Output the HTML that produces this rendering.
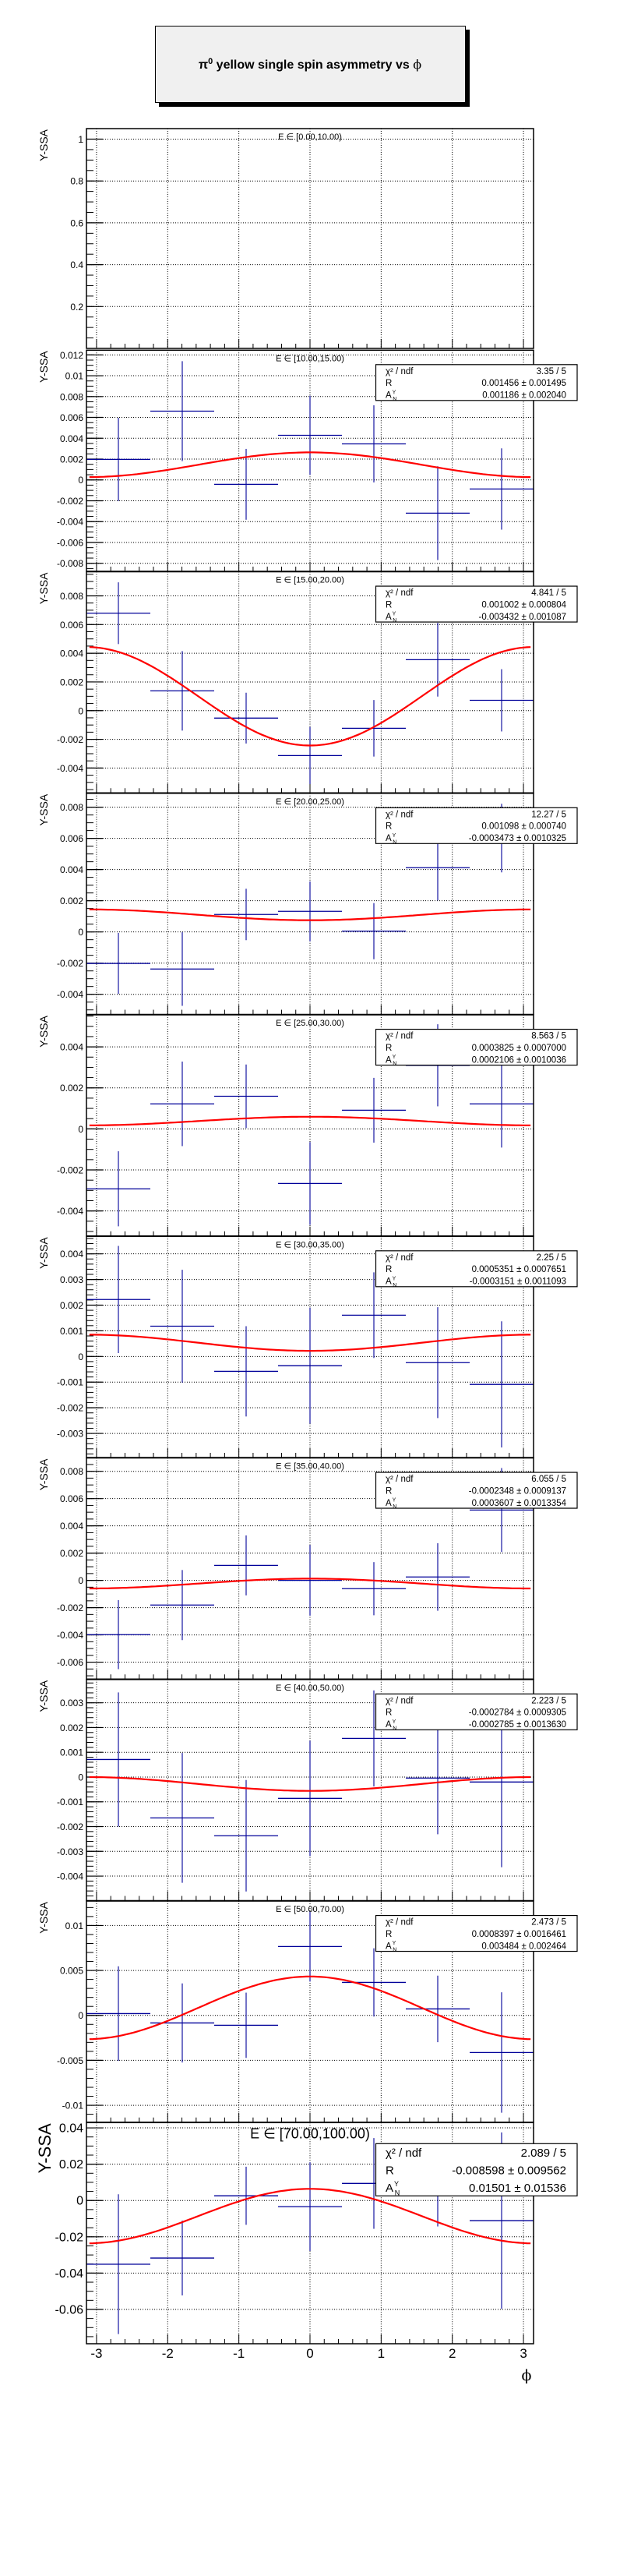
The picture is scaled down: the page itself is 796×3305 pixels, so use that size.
<!DOCTYPE html>
<html><head><meta charset="utf-8"><style>
body{margin:0;background:#fff;}
svg{display:block;font-family:"Liberation Sans",Arial,sans-serif;}
</style></head><body>
<svg id="c" width="796" height="3305" viewBox="0 0 796 3305" xmlns="http://www.w3.org/2000/svg">
<g>
<rect x="204" y="38" width="399" height="99" fill="#000"/>
<rect x="199.5" y="33.5" width="398" height="98" fill="#f0f0f0" stroke="#000" stroke-width="1"/>
<text x="398" y="88" text-anchor="middle" font-size="16" font-weight="bold">π<tspan dy="-6" font-size="11">0</tspan><tspan dy="6"> yellow single spin asymmetry vs </tspan><tspan font-weight="normal" font-family="'DejaVu Serif',serif">ϕ</tspan></text>
</g>
</svg>
<script>
// ---- data ----
const phiBinEdges = [-3.1416,-2.2440,-1.3464,-0.4488,0.4488,1.3464,2.2440,3.1416];
const energyBins = ["[0.00,10.00)","[10.00,15.00)","[15.00,20.00)","[20.00,25.00)","[25.00,30.00)","[30.00,35.00)","[35.00,40.00)","[40.00,50.00)","[50.00,70.00)","[70.00,100.00)"];
const yssa2 = [0.00197,0.0066,-0.00042,0.00428,0.00346,-0.00319,-0.00087];
const err2  = [0.0040,0.0048,0.0034,0.0038,0.0037,0.0045,0.0039];
const yssa3 = [0.00679,0.00138,-0.00052,-0.00313,-0.00123,0.00355,0.00072];
const err3  = [0.00215,0.00277,0.00177,0.00199,0.00197,0.00257,0.00217];
const yssa4 = [-0.00202,-0.00238,0.00112,0.00132,0.00005,0.00412,0.00602];
const err4  = [0.00196,0.00236,0.00165,0.00192,0.0018,0.0021,0.0022];
const yssa5 = [-0.00292,0.00122,0.00159,-0.00266,0.00091,0.0031,0.00122];
const err5  = [0.00183,0.00206,0.00155,0.00202,0.00158,0.002,0.00213];
const yssa6 = [0.00222,0.00118,-0.00058,-0.00036,0.00161,-0.00024,-0.00109];
const err6  = [0.00209,0.0022,0.00176,0.00226,0.00167,0.00216,0.00246];
const yssa7 = [-0.00398,-0.00181,0.0011,0.0,-0.00061,0.00025,0.00516];
const err7  = [0.00253,0.00257,0.0022,0.00259,0.00195,0.00248,0.00308];
const yssa8 = [0.00071,-0.00165,-0.00237,-0.00086,0.00156,-0.00004,-0.0002];
const err8  = [0.00271,0.00262,0.00225,0.00233,0.00194,0.00227,0.00344];
const yssa9 = [0.0002,-0.00084,-0.0011,0.00766,0.00367,0.00072,-0.00413];
const err9  = [0.00526,0.0044,0.00363,0.0039,0.0038,0.0037,0.0067];
const yssa10 = [-0.0351,-0.0317,0.0026,-0.0034,0.0094,0.006,-0.0111];
const err10  = [0.0385,0.0206,0.016,0.0244,0.025,0.0203,0.0486];
const fitR = [null,0.001456,0.001002,0.001098,0.0003825,0.0005351,-0.0002348,-0.0002784,0.0008397,-0.008598];
const fitA = [null,0.001186,-0.003432,-0.0003473,0.0002106,-0.0003151,0.0003607,-0.0002785,0.003484,0.01501];
const chiLabels = [null,"3.35 / 5","4.841 / 5","12.27 / 5","8.563 / 5","2.25 / 5","6.055 / 5","2.223 / 5","2.473 / 5","2.089 / 5"];
const rLabels = [null,"0.001456 ± 0.001495","0.001002 ± 0.000804","0.001098 ± 0.000740","0.0003825 ± 0.0007000","0.0005351 ± 0.0007651","-0.0002348 ± 0.0009137","-0.0002784 ± 0.0009305","0.0008397 ± 0.0016461","-0.008598 ± 0.009562"];
const aLabels = [null,"0.001186 ± 0.002040","-0.003432 ± 0.001087","-0.0003473 ± 0.0010325","0.0002106 ± 0.0010036","-0.0003151 ± 0.0011093","0.0003607 ± 0.0013354","-0.0002785 ± 0.0013630","0.003484 ± 0.002464","0.01501 ± 0.01536"];
const yRanges = [[0,1.0503],[-0.00877,0.01245],[-0.00573,0.00968],[-0.00529,0.00889],[-0.00522,0.00556],[-0.00394,0.00468],[-0.00724,0.00898],[-0.00499,0.00394],[-0.01188,0.01272],[-0.0789,0.0429]];
const yTickLabels = [
 ["0.2","0.4","0.6","0.8","1"],
 ["-0.008","-0.006","-0.004","-0.002","0","0.002","0.004","0.006","0.008","0.01","0.012"],
 ["-0.004","-0.002","0","0.002","0.004","0.006","0.008"],
 ["-0.004","-0.002","0","0.002","0.004","0.006","0.008"],
 ["-0.004","-0.002","0","0.002","0.004"],
 ["-0.003","-0.002","-0.001","0","0.001","0.002","0.003","0.004"],
 ["-0.006","-0.004","-0.002","0","0.002","0.004","0.006","0.008"],
 ["-0.004","-0.003","-0.002","-0.001","0","0.001","0.002","0.003"],
 ["-0.01","-0.005","0","0.005","0.01"],
 ["-0.06","-0.04","-0.02","0","0.02","0.04"]];
const yMinorDiv = [4,4,4,4,4,5,4,5,5,4];
const xTickLabels = ["-3","-2","-1","0","1","2","3"];
const yssaAll = [null,yssa2,yssa3,yssa4,yssa5,yssa6,yssa7,yssa8,yssa9,yssa10];
const errAll = [null,err2,err3,err4,err5,err6,err7,err8,err9,err10];

// ---- drawing ----
const NS="http://www.w3.org/2000/svg";
const svg=document.getElementById('c');
function mk(tag,attrs,parent){const e=document.createElementNS(NS,tag);for(const k in attrs)e.setAttribute(k,attrs[k]);(parent||svg).appendChild(e);return e;}
const X0=111,X1=685;
function xs(v){return X0+(v-phiBinEdges[0])/(phiBinEdges[7]-phiBinEdges[0])*(X1-X0);}

for(let p=0;p<10;p++){
  const top = p===0?165:449.3+284.25*(p-1);
  const bot = p===0?447:top+283.7;
  const big = p===9;
  const [ymin,ymax]=yRanges[p];
  const ys=v=>bot-(v-ymin)/(ymax-ymin)*(bot-top);
  const g=mk('g',{});
  
  
  const cid='clip'+p;
  const cp=mk('clipPath',{id:cid},g);mk('rect',{x:X0,y:top,width:X1-X0,height:bot-top},cp);
  for(const t of xTickLabels){const v=parseFloat(t);const gl=mk('line',{x1:xs(v),x2:xs(v),y1:top,y2:bot,stroke:'#000','stroke-width':1,'stroke-dasharray':'1,2'},g);
    }
  const tl=yTickLabels[p];
  for(const t of tl){const v=parseFloat(t);const y=ys(v);
    const gl=mk('line',{x1:X0,x2:X1,y1:y,y2:y,stroke:'#000','stroke-width':1,'stroke-dasharray':'1,2'},g);
    
    const tk=mk('line',{x1:X0,x2:X0+21,y1:y,y2:y,stroke:'#000','stroke-width':1.2},g);
    
    if(y>top-2&&y<bot+2){const tx=mk('text',{x:107,y:y+(big?5.5:4.5),'text-anchor':'end','font-size':big?16:12},g);tx.textContent=t;
      }
  }
  const step=parseFloat(tl[1])-parseFloat(tl[0]);const ms=step/yMinorDiv[p];
  for(let v=parseFloat(tl[0])-step;v<=ymax+1e-12;v+=ms){if(v<ymin)continue;const y=ys(v);
    const mt=mk('line',{x1:X0,x2:X0+9,y1:y,y2:y,stroke:'#000','stroke-width':1},g);
    }
  for(let k=-15;k<=15;k++){const v=k*0.2;const x=xs(v);if(x<X0+1||x>X1-1)continue;const maj=(k%5===0);
    const xt=mk('line',{x1:x,x2:x,y1:bot,y2:bot-(maj?12:6),stroke:'#000','stroke-width':1},g);
    }
  if(p>0){
    const vals=yssaAll[p],errs=errAll[p];
    const dg=mk('g',{'clip-path':'url(#'+cid+')'},g);
    for(let i=0;i<vals.length;i++){
      const xc=xs((phiBinEdges[i]+phiBinEdges[i+1])/2);
      const h=mk('line',{x1:xs(phiBinEdges[i]),x2:xs(phiBinEdges[i+1]),y1:ys(vals[i]),y2:ys(vals[i]),stroke:'#000099','stroke-width':1.3},dg);
      
      const vl=mk('line',{x1:xc,x2:xc,y1:ys(vals[i]+errs[i]),y2:ys(vals[i]-errs[i]),stroke:'#000099','stroke-width':1.1},dg);
      
    }
    let pts=[];for(let k=0;k<=120;k++){const v=-3.1+6.2*k/120;pts.push(xs(v).toFixed(1)+','+ys(fitR[p]+fitA[p]*Math.cos(v)).toFixed(1));}
    const fc=mk('polyline',{points:pts.join(' '),fill:'none',stroke:'#ff0000','stroke-width':2.2},dg);
    
  }
  const fr=mk('rect',{x:X0,y:top,width:X1-X0,height:bot-top,fill:'none',stroke:'#000','stroke-width':1.5},g);
  
  const yt=mk('text',{transform:'translate('+(big?65:61)+','+(top+1)+') rotate(-90)','text-anchor':'end','font-size':big?22:14},g);
  yt.textContent='Y-SSA';
  const et=mk('text',{x:398,y:top+(big?20:14),'text-anchor':'middle','font-size':big?18:11},g);
  et.textContent='E ∈ '+energyBins[p];
  if(p>0){
    const sb=mk('g',{},g);
    const by=big?top+27:top+18.5,bh=big?67:46,rh=bh/3,fs=big?15:11.5;
    mk('rect',{x:482.5,y:by,width:258.5,height:bh,fill:'#fff',stroke:'#000','stroke-width':1.2},sb);
    const rows=[['χ² / ndf',chiLabels[p]],['R',rLabels[p]],['A',aLabels[p]]];
    rows.forEach((r,i)=>{const yy=by+rh*(i+0.5)+fs*0.38;
      const l=mk('text',{x:495,y:yy,'font-size':fs},sb);l.textContent=r[0];
      if(i===2){const s1=mk('tspan',{dx:1,dy:-fs*0.45,'font-size':fs*0.6},l);s1.textContent='Y';const s2=mk('tspan',{dx:-fs*0.35,dy:fs*0.75,'font-size':fs*0.6},l);s2.textContent='N';}
      const v=mk('text',{x:727,y:yy,'text-anchor':'end','font-size':fs},sb);v.textContent=r[1];});
  }
  if(big){
    xTickLabels.forEach(t=>{const tx=mk('text',{x:xs(parseFloat(t)),y:3025,'text-anchor':'middle','font-size':17},g);tx.textContent=t;
      });
    const xt=mk('text',{x:676,y:3054,'text-anchor':'middle','font-size':19,'font-family':"'DejaVu Serif',serif"},g);
    xt.textContent='ϕ';
  }
}
</script>
</body></html>
